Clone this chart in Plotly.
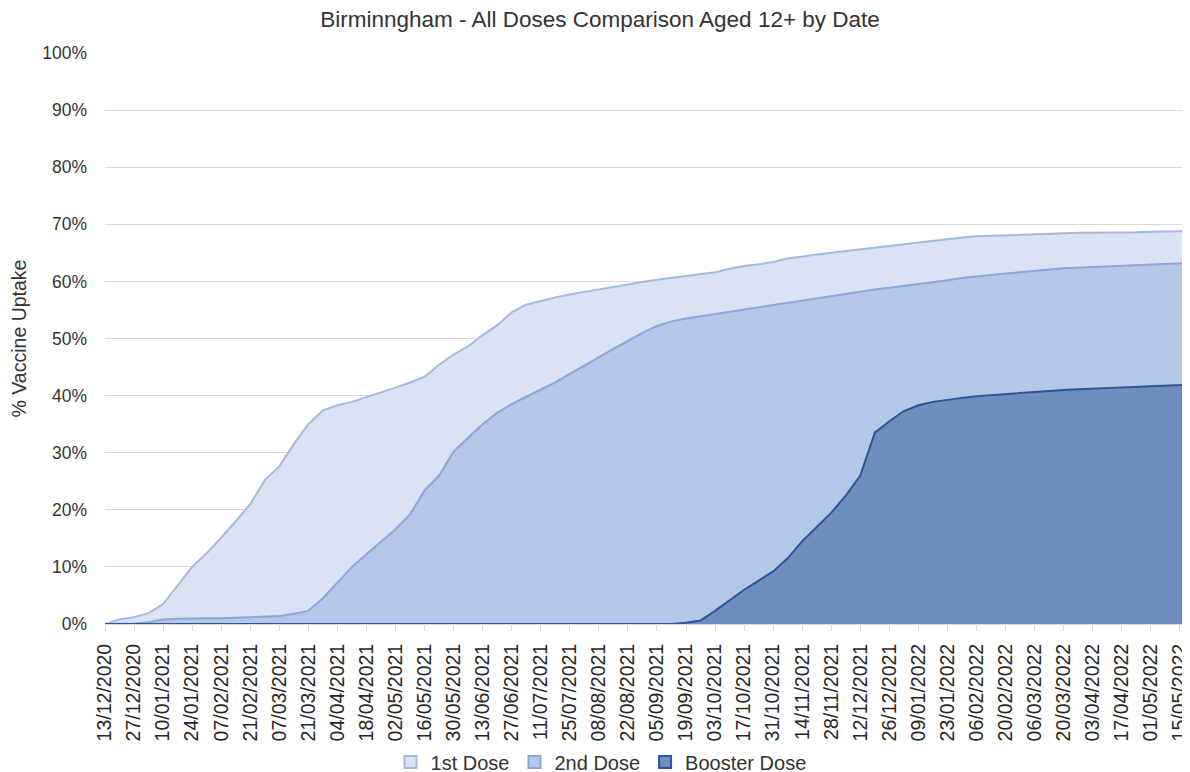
import pandas as pd
import plotly.graph_objects as go

dates = list(pd.date_range("2020-12-13", "2022-05-15", freq="7D")) + [pd.Timestamp("2022-05-18")]

first_dose = [0, 0.8, 1.2, 1.9, 3.5, 6.8, 10.0, 12.4, 15.1, 18.0,
              21.0, 25.2, 27.6, 31.5, 35.0, 37.4, 38.3, 38.9, 39.7, 40.5,
              41.4, 42.3, 43.3, 45.4, 47.2, 48.6, 50.6, 52.3, 54.6, 55.9,
              56.6, 57.2, 57.7, 58.2, 58.6, 59.0, 59.5, 59.9, 60.3, 60.6,
              60.9, 61.2, 61.6, 62.2, 62.7, 63.0, 63.4, 64.0, 64.4, 64.7,
              65.0, 65.3, 65.7, 66.0, 66.3, 66.6, 66.9, 67.2, 67.5, 67.7,
              67.9, 68.0, 68.1, 68.2, 68.3, 68.4, 68.4, 68.5, 68.5, 68.5,
              68.6, 68.6, 68.7, 68.7, 68.8, 68.8]

second_dose = [0, 0, 0.1, 0.3, 0.8, 0.9, 1.0, 1.0, 1.0, 1.1,
               1.1, 1.2, 1.4, 1.8, 2.3, 4.5, 7.3, 10.0, 12.2, 14.4,
               16.6, 19.2, 23.4, 26.0, 30.2, 32.6, 35.0, 37.0, 38.5, 39.8,
               41.0, 42.3, 43.8, 45.3, 46.8, 48.2, 49.6, 51.0, 52.2, 53.0,
               53.5, 53.9, 54.3, 54.7, 55.1, 55.5, 55.9, 56.3, 56.7, 57.1,
               57.5, 57.9, 58.3, 58.6, 58.9, 59.2, 59.5, 59.8, 60.2, 60.6,
               60.9, 61.2, 61.4, 61.6, 61.9, 62.1, 62.3, 62.4, 62.5, 62.6,
               62.7, 62.8, 62.9, 63.0, 63.1, 63.2]

booster_dose = [0] * 40 + [0.2, 0.6, 2.3, 4.2, 6.0, 7.6, 9.2, 11.5, 14.5, 17.0,
                           19.5, 22.5, 26.0, 33.5, 35.5, 37.3, 38.3, 38.9, 39.3, 39.6,
                           39.9, 40.1, 40.3, 40.5, 40.7, 40.8, 41.0, 41.1, 41.2, 41.3,
                           41.4, 41.5, 41.6, 41.7, 41.8, 41.9]

series = [
    ("1st Dose", first_dose, "#dae3f3", "#a3b9df"),
    ("2nd Dose", second_dose, "#b4c7e7", "#8aa7d8"),
    ("Booster Dose", booster_dose, "#6f8dbf", "#2f5597"),
]

fig = go.Figure()
for name, vals, fillc, linec in series:
    fig.add_trace(go.Scatter(
        x=dates, y=vals, name=name, mode="lines",
        fill="tozeroy", fillcolor=fillc,
        line=dict(color=linec, width=2),
        showlegend=False,
    ))
# legend entries as square swatches
for name, vals, fillc, linec in series:
    fig.add_trace(go.Scatter(
        x=[None], y=[None], name=name, mode="markers",
        marker=dict(symbol="square", size=12, color=fillc,
                    line=dict(color=linec, width=2)),
        showlegend=True,
    ))

H = 790
font_family = "Liberation Sans, Arial, sans-serif"
fig.update_layout(
    width=1190, height=H,
    margin=dict(l=97, r=10, t=45, b=H - 616),
    paper_bgcolor="white", plot_bgcolor="white",
    font=dict(family=font_family, color="#333333", size=18),
    title=dict(text="Birminngham - All Doses Comparison Aged 12+ by Date",
               x=0.4975, xanchor="center", y=1 - 11 / H, yanchor="middle",
               font=dict(size=22.5, color="#333333")),
    showlegend=True,
    legend=dict(orientation="h", x=0.458, xanchor="center", y=-0.2417, yanchor="middle",
                font=dict(size=20, color="#333333"), traceorder="normal",
                itemwidth=30, tracegroupgap=0),
    xaxis=dict(
        type="date", range=["2020-12-13", "2022-05-18 22:00"],
        tick0="2020-12-13", dtick=14 * 86400000, tickformat="%d/%m/%Y",
        tickangle=-90, ticks="outside", ticklen=6, tickcolor="#d9d9d9",
        showgrid=False, showline=True, linecolor="#d9d9d9",
        tickfont=dict(size=19.5, color="#262626"),
        ticklabelstandoff=5,
        ticklabeloverflow="allow", automargin=False,
    ),
    yaxis=dict(
        range=[0, 100], dtick=10, ticksuffix="%",
        showgrid=True, gridcolor="#d9d9d9", zeroline=False,
        tickfont=dict(size=17.5, color="#333333"),
        ticklabelstandoff=17, automargin=False,
        title=dict(text="% Vaccine Uptake", standoff=13, font=dict(size=19.5, color="#333333")),
    ),
)

fig.write_html("out.html")
